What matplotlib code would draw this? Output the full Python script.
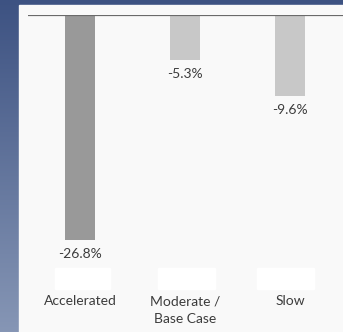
import matplotlib.pyplot as plt
from matplotlib.patches import Rectangle
import numpy as np

categories = ["Accelerated", "Moderate /\nBase Case", "Slow"]
values = [-26.8, -5.3, -9.6]
bar_colors = ["#999999", "#c8c8c8", "#c8c8c8"]

W, H = 343, 332
fig = plt.figure(figsize=(W / 100, H / 100), dpi=100)

# slide background: blue vertical gradient
bg = fig.add_axes([0, 0, 1, 1])
bg.set_zorder(-3)
grad = np.linspace(0, 1, 256).reshape(-1, 1)
top = np.array([0x3d, 0x52, 0x82]) / 255
bot = np.array([0x86, 0x96, 0xb5]) / 255
img = top + (bot - top) * grad[:, :, None]
bg.imshow(img, aspect="auto", extent=[0, 1, 0, 1], origin="upper")
bg.set_axis_off()

# panel the chart sits on, with white boxes under the category labels
fig.patches.append(Rectangle((19 / W, 0), 1 - 19 / W, 1 - 5 / H,
                             transform=fig.transFigure, color="#f9f9f9", zorder=-2))
for x0, x1 in [(55, 110), (158, 215), (257, 314)]:
    fig.patches.append(Rectangle((x0 / W, 1 - 289 / H), (x1 - x0) / W, 21 / H,
                                 transform=fig.transFigure, color="white", zorder=-1))

ax = fig.add_axes([27.5 / W, 72 / H, 315 / W, 245 / H])
ax.set_zorder(1)
ax.patch.set_visible(False)
x = np.arange(len(categories))
ax.bar(x, values, width=0.286, color=bar_colors, zorder=2)
ax.set_xlim(-0.5, 2.5)
ax.set_ylim(-245 / 8.4, 0)
ax.axhline(0, color="#6a6a6a", lw=1.6, zorder=3)

for xi, v in zip(x, values):
    ax.annotate(f"{v:.1f}%", (xi, v), xytext=(0, -6), textcoords="offset points",
                ha="center", va="top", fontsize=10, family="Lato", color="#3c3c3c")

for xi, c in zip(x, categories):
    fig.text((27.5 + 105 * (xi + 0.5)) / W, 1 - 295 / H, c, ha="center", va="top",
             fontsize=10, family="Lato", color="#3c3c3c", linespacing=1.6,
             zorder=2)

for s in ax.spines.values():
    s.set_visible(False)
ax.set_xticks([])
ax.set_yticks([])

fig.savefig("out.png", dpi=100)
